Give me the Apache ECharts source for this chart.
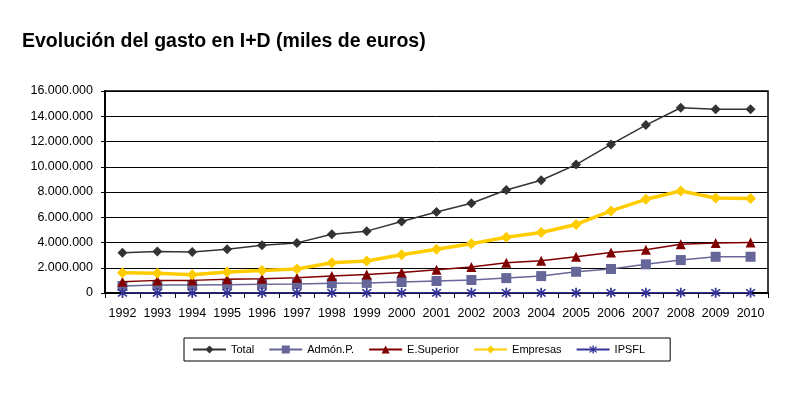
<!DOCTYPE html>
<html>
<head>
<meta charset="utf-8">
<script src="https://cdn.jsdelivr.net/npm/echarts@6/dist/echarts.min.js"></script>
<style>html,body{margin:0;padding:0;background:#fff}#c{width:811px;height:396px}</style>
</head>
<body>
<div id="c"></div>
<script>
const categories = ['1992','1993','1994','1995','1996','1997','1998','1999','2000','2001','2002','2003','2004','2005','2006','2007','2008','2009','2010'];
const total = [3180000,3290000,3240000,3470000,3790000,3970000,4660000,4900000,5660000,6420000,7110000,8160000,8930000,10170000,11770000,13300000,14670000,14560000,14560000];
const admon = [550000,630000,630000,660000,690000,710000,770000,800000,870000,950000,1030000,1180000,1340000,1680000,1900000,2270000,2610000,2870000,2870000];
const eSuperior = [890000,1000000,1000000,1080000,1130000,1210000,1340000,1470000,1630000,1840000,2050000,2390000,2550000,2870000,3210000,3420000,3870000,3970000,4000000];
const empresas = [1600000,1560000,1450000,1660000,1790000,1900000,2390000,2530000,3030000,3470000,3900000,4420000,4790000,5430000,6500000,7420000,8080000,7530000,7480000];
const ipsfl = [5000,6000,6000,7000,8000,9000,10000,11000,12000,13000,14000,15000,16000,17000,18000,19000,20000,20000,20000];
const seriesNames = ['Total','Admón.P.','E.Superior','Empresas','IPSFL'];
const title = 'Evolución del gasto en I+D (miles de euros)';

const star = 'path://M-0.7,-5L0.7,-5L0.7,5L-0.7,5Z M-3.1,-4.1L4.1,3.1L3.1,4.1L-4.1,-3.1Z M3.1,-4.1L4.1,-3.1L-3.1,4.1L-4.1,3.1Z';

function fmt(v){ return String(v).replace(/\B(?=(\d{3})+(?!\d))/g,'.'); }

const chart = echarts.init(document.getElementById('c'), null, {renderer:'canvas'});
chart.setOption({
  animation:false,
  backgroundColor:'#fff',
  title:{text:title,left:17,top:27,textStyle:{fontFamily:'Liberation Sans',fontSize:19.5,fontWeight:'bold',color:'#000'}},
  grid:{left:105,right:43,top:91,bottom:103,show:true,borderColor:'#000',borderWidth:1.5,backgroundColor:'transparent'},
  legend:{
    left:184,top:338,
    data:seriesNames,
    borderColor:'#000',borderWidth:1,padding:[6,25,6,8],
    itemWidth:33,itemHeight:10,itemGap:14,
    textStyle:{fontFamily:'Liberation Sans',fontSize:11,color:'#000'}
  },
  xAxis:{
    type:'category',data:categories,boundaryGap:true,
    axisLine:{lineStyle:{color:'#000',width:2}},
    axisTick:{show:true,length:5,lineStyle:{color:'#000'}},
    axisLabel:{fontFamily:'Liberation Sans',fontSize:12.5,color:'#000',margin:14,interval:0}
  },
  yAxis:{
    type:'value',min:0,max:16000000,interval:2000000,
    axisLine:{show:true,lineStyle:{color:'#000',width:2}},
    axisTick:{show:true,length:4,lineStyle:{color:'#000'}},
    splitLine:{lineStyle:{color:'#000',width:1}},
    axisLabel:{fontFamily:'Liberation Sans',fontSize:12.5,color:'#000',margin:12,formatter:fmt}
  },
  series:[
    {name:'Total',type:'line',data:total,symbol:'diamond',symbolSize:10,color:'#333333',lineStyle:{width:1.5,color:'#333333'},itemStyle:{color:'#333333'},z:5},
    {name:'Admón.P.',type:'line',data:admon,symbol:'rect',symbolSize:10,color:'#666699',lineStyle:{width:1.5,color:'#666699'},itemStyle:{color:'#666699'},z:3},
    {name:'E.Superior',type:'line',data:eSuperior,symbol:'triangle',symbolSize:10,color:'#800000',lineStyle:{width:1.5,color:'#800000'},itemStyle:{color:'#800000'},z:4},
    {name:'Empresas',type:'line',data:empresas,symbol:'diamond',symbolSize:11,color:'#FFCC00',lineStyle:{width:3.5,color:'#FFCC00'},itemStyle:{color:'#FFCC00'},z:4},
    {name:'IPSFL',type:'line',data:ipsfl,symbol:star,symbolSize:10,color:'#333399',lineStyle:{width:1.5,color:'#333399'},itemStyle:{color:'#333399'},z:6}
  ]
});
</script>
</body>
</html>
